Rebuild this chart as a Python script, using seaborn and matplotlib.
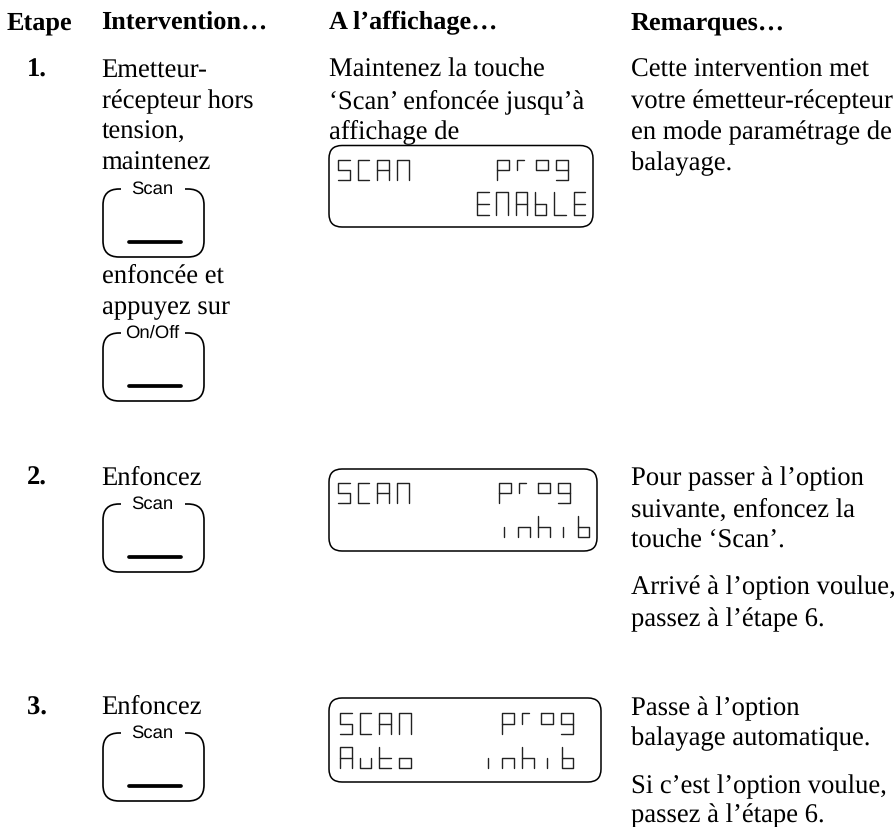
import matplotlib
matplotlib.use("Agg")
import matplotlib.pyplot as plt
from matplotlib.patches import FancyBboxPatch
import seaborn as sns
import pandas as pd

headers = ["Etape", "Intervention…", "A l’affichage…", "Remarques…"]
step_labels = ["1.", "2.", "3."]

step1_action = ["Emetteur-", "récepteur hors", "tension,", "maintenez"]
step1_action2 = ["enfoncée et", "appuyez sur"]
step1_display = ["Maintenez la touche", "‘Scan’ enfoncée jusqu’à", "affichage de"]
step1_notes = ["Cette intervention met", "votre émetteur-récepteur", "en mode paramétrage de", "balayage."]
step2_action = ["Enfoncez"]
step2_notes = ["Pour passer à l’option", "suivante, enfoncez la", "touche ‘Scan’."]
step2_notes2 = ["Arrivé à l’option voulue,", "passez à l’étape 6."]
step3_action = ["Enfoncez"]
step3_notes = ["Passe à l’option", "balayage automatique."]
step3_notes2 = ["Si c’est l’option voulue,", "passez à l’étape 6."]

# cell is 1 wide, 1 high, y down
glyphs = {
    "S": [[(1, 0), (0, 0), (0, .5), (1, .5), (1, 1), (0, 1)]],
    "C": [[(1, 0), (0, 0), (0, 1), (1, 1)]],
    "A": [[(0, 1), (0, 0), (1, 0), (1, 1)], [(0, .5), (1, .5)]],
    "N": [[(0, 1), (0, 0), (1, 0), (1, 1)]],
    "E": [[(1, 0), (0, 0), (0, 1), (1, 1)], [(0, .5), (1, .5)]],
    "L": [[(0, 0), (0, 1), (1, 1)]],
    "b": [[(0, 0), (0, 1), (1, 1), (1, .5), (0, .5)]],
    "p": [[(0, 1), (0, 0), (1, 0), (1, .5), (0, .5)]],
    "r": [[(0, .5), (0, 0), (.6, 0)]],
    "o": [[(0, 0), (1, 0), (1, .5), (0, .5), (0, 0)]],
    "g": [[(0, 1), (1, 1), (1, 0), (0, 0), (0, .5), (1, .5)]],
    "n": [[(0, 1), (0, .5), (1, .5), (1, 1)]],
    "h": [[(0, 0), (0, 1)], [(0, .5), (1, .5), (1, 1)]],
    "i": [[(.45, .5), (.45, 1)]],
    "u": [[(0, .5), (0, 1), (1, 1), (1, .5)]],
    "t": [[(0, 0), (0, 1), (1, 1)], [(0, .5), (1, .5)]],
    "O": [[(0, .5), (1, .5), (1, 1), (0, 1), (0, .5)]],
}

sns.set_theme(style="white")
plt.rcParams["font.family"] = ["Liberation Serif", "DejaVu Serif"]
plt.rcParams["text.hinting"] = "none"

fig, ax = plt.subplots(figsize=(8.96, 8.28), dpi=100)
ax.set_position([0, 0, 1, 1])

TXT = 19.2
BOLD = 18.9


def block(x, ys, lines, size=TXT, **kw):
    for y, line in zip(ys, lines):
        ax.text(x, y, line, fontsize=size, color="black", va="baseline", ha="left", **kw)


def button(top, label):
    ax.add_patch(FancyBboxPatch((118, top + 15), 71, 38, boxstyle="round,pad=15,rounding_size=16",
                                fc="none", ec="black", lw=1.2))
    ax.plot([121, 185], [top, top], color="white", lw=3, solid_capstyle="butt", zorder=3)
    ax.plot([129, 181], [top + 53, top + 53], color="black", lw=2.7, solid_capstyle="round", zorder=3)
    ax.text(152, top + 3.5, label, fontsize=13.3, family="Liberation Sans", color="black",
            ha="center", va="baseline", zorder=4)


def lcd_frame(top, bottom, right):
    ax.add_patch(FancyBboxPatch((342, top + 13), right - 355, bottom - top - 26,
                                boxstyle="round,pad=13,rounding_size=13",
                                fc="none", ec="black", lw=1.1))


seg_rows = []
seg_count = 0


def lcd_text(text, x0, y0, y1, adv=19.7, w=11.5):
    # y0/y1 are the top and bottom of the glyph cell
    global seg_count
    for n, ch in enumerate(text):
        if ch == " ":
            continue
        for part in glyphs[ch]:
            seg_count += 1
            for px, py in part:
                seg_rows.append({"x": x0 + n * adv + px * w, "y": y0 + py * (y1 - y0), "seg": seg_count})


# headers
block(7, [29], headers[:1], size=BOLD, fontweight="bold")
block(101.5, [29], headers[1:2], size=BOLD, fontweight="bold")
block(329, [29], headers[2:3], size=BOLD, fontweight="bold")
block(631, [29], headers[3:4], size=BOLD, fontweight="bold")

# step numbers
block(27, [77], step_labels[:1], fontweight="bold")
block(27, [485], step_labels[1:2], fontweight="bold")
block(27, [715], step_labels[2:3], fontweight="bold")

# step 1
block(101.5, [77, 108, 139, 170], step1_action)
block(101.5, [283, 314], step1_action2)
block(329, [77, 108, 138], step1_display)
block(631, [77, 108, 139, 170], step1_notes)
button(190, "Scan")
button(334, "On/Off")
lcd_frame(146.5, 228, 593)
lcd_text("SCAN", 338, 161, 181)
lcd_text("prog", 497, 161, 181)
lcd_text("ENAbLE", 477, 193, 216, adv=19.3)

# step 2
block(101.5, [485], step2_action)
block(631, [485, 517, 548], step2_notes)
block(631, [594, 626], step2_notes2)
button(505, "Scan")
lcd_frame(470, 552, 597)
lcd_text("SCAN", 338, 484, 504)
lcd_text("prog", 499, 484, 504)
lcd_text("inhib", 498.7, 517, 538)

# step 3
block(101.5, [714], step3_action)
block(631, [715, 745], step3_notes)
block(631, [793, 822], step3_notes2)
button(734, "Scan")
lcd_frame(699, 783, 601)
lcd_text("SCAN", 340, 714, 735)
lcd_text("prog", 502, 714, 735)
lcd_text("AutO", 340, 748, 769)
lcd_text("inhib", 482.7, 748, 769)

segs = pd.DataFrame(seg_rows)
sns.lineplot(data=segs, x="x", y="y", units="seg", estimator=None, sort=False,
             color="#222222", lw=1.0, ax=ax, legend=False)

ax.set_xlim(0, 896)
ax.set_ylim(828, 0)
ax.axis("off")

fig.savefig("out.png", dpi=100)
